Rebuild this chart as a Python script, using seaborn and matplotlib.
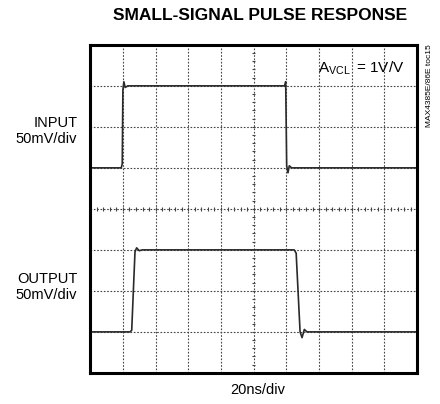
"""Small-signal pulse response scope capture, redrawn with seaborn."""
import matplotlib
matplotlib.use("Agg")
import matplotlib.pyplot as plt
import numpy as np
import pandas as pd
import seaborn as sns

# scope traces, in divisions (x: 0..10 div, y: 0..8 div from bottom)
input_t = [0.0, 0.95, 0.98, 1.0, 1.03, 1.07, 1.15, 5.95, 5.98, 6.01, 6.05, 6.09, 6.16, 10.0]
input_v = [5.0, 5.0, 5.1, 6.9, 7.1, 6.96, 7.0, 7.0, 7.1, 5.05, 4.88, 5.05, 5.0, 5.0]

output_t = [0.0, 1.22, 1.27, 1.37, 1.42, 1.5, 1.6, 6.24, 6.3, 6.42, 6.48, 6.55, 6.63, 10.0]
output_v = [1.0, 1.0, 1.04, 2.95, 3.05, 2.98, 3.0, 3.0, 2.92, 1.0, 0.86, 1.06, 1.0, 1.0]

n_xdiv = 10
n_ydiv = 8

title = "SMALL-SIGNAL PULSE RESPONSE"
input_label = "INPUT\n50mV/div"
output_label = "OUTPUT\n50mV/div"
time_label = "20ns/div"
gain_label = r"A$_{\mathrm{VCL}}\,$ = 1V/V"
part_label = "MAX4385E/86E toc15"

sns.set_style("white")
plt.rcParams["font.family"] = ["Liberation Sans", "DejaVu Sans"]
plt.rcParams["mathtext.fontset"] = "custom"
plt.rcParams["mathtext.rm"] = "Liberation Sans"
plt.rcParams["text.color"] = "black"

fig = plt.figure(figsize=(4.4, 4.04), dpi=100)
ax = fig.add_axes([0.205, 0.077, 0.743, 0.812])

traces = pd.concat([
    pd.DataFrame({"t": input_t, "v": input_v, "trace": "input"}),
    pd.DataFrame({"t": output_t, "v": output_v, "trace": "output"}),
])
sns.lineplot(data=traces, x="t", y="v", units="trace", estimator=None,
             sort=False, color="#2a2a2a", lw=1.2, ax=ax, legend=False)

ax.set_xlim(0, n_xdiv)
ax.set_ylim(0, n_ydiv)

# graticule
for gx in range(1, n_xdiv):
    ax.axvline(gx, color="#444444", lw=0.8, ls=(0, (1.5, 1.5)), zorder=0)
for gy in range(1, n_ydiv):
    ax.axhline(gy, color="#444444", lw=0.8, ls=(0, (1.5, 1.5)), zorder=0)

# minor ticks on the centre lines
minor_x = np.arange(0, n_xdiv, 0.2)
minor_y = np.arange(0, n_ydiv, 0.2)
ax.vlines(minor_x, n_ydiv / 2 - 0.05, n_ydiv / 2 + 0.05, color="#444444", lw=0.8)
ax.hlines(minor_y, n_xdiv / 2 - 0.05, n_xdiv / 2 + 0.05, color="#444444", lw=0.8)

ax.set_xticks([])
ax.set_yticks([])
ax.set_xlabel("")
ax.set_ylabel("")
for s in ax.spines.values():
    s.set_visible(True)
    s.set_color("black")
    s.set_linewidth(2.2)

fig.text(0.59, 0.962, title, ha="center", va="center", fontsize=12.5,
         fontweight="bold")
fig.text(0.176, 0.675, input_label, ha="right", va="center", fontsize=10.5,
         linespacing=1.15)
fig.text(0.176, 0.29, output_label, ha="right", va="center", fontsize=10.5,
         linespacing=1.15)
fig.text(0.585, 0.034, time_label, ha="center", va="center", fontsize=10.5)
ax.text(0.96, 0.93, gain_label, transform=ax.transAxes, ha="right",
        va="center", fontsize=11)
fig.text(0.977, 0.89, part_label, rotation=90, ha="center", va="top",
         fontsize=6)

fig.savefig("out.png", dpi=100)
